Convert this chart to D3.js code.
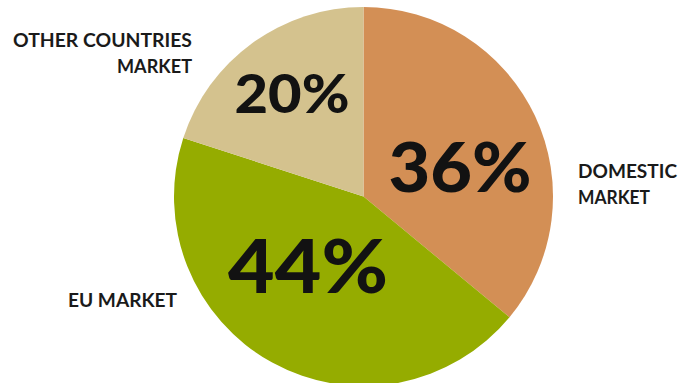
<!DOCTYPE html>
<html>
<head>
<meta charset="utf-8">
<script src="https://cdn.jsdelivr.net/npm/d3@7"></script>
<style>
  html, body { margin: 0; padding: 0; background: #ffffff; }
  svg { display: block; }
</style>
</head>
<body>
<svg id="chart" width="679" height="383"></svg>
<script>
// Market share by destination
const categories = ["DOMESTIC MARKET", "EU MARKET", "OTHER COUNTRIES MARKET"];
const shares = [36, 44, 20];
const colors = ["#D38F55", "#95AC00", "#D4C28E"];

// Layout of the name labels (multi-line) and of the in-slice percentages
const nameLayout = {
  "DOMESTIC MARKET":        { lines: ["DOMESTIC", "MARKET"], x: 578, y: 178, anchor: "start", widths: [99, 72] },
  "EU MARKET":              { lines: ["EU MARKET"], x: 177, y: 307, anchor: "end", widths: [109] },
  "OTHER COUNTRIES MARKET": { lines: ["OTHER COUNTRIES", "MARKET"], x: 192, y: 47, anchor: "end", widths: [179, 75] }
};
const pctLayout = {
  "DOMESTIC MARKET":        { x: 460, y: 192, size: 68, width: 143 },
  "EU MARKET":              { x: 308, y: 293, size: 75, width: 160 },
  "OTHER COUNTRIES MARKET": { x: 292, y: 113, size: 54, width: 115 }
};

const svg = d3.select("#chart");
const cx = 363.5, cy = 196.5, radius = 189.5;

const pie = d3.pie().sort(null).value(d => d.value);
const arc = d3.arc().innerRadius(0).outerRadius(radius);
const color = d3.scaleOrdinal().domain(categories).range(colors);

const data = categories.map((c, i) => ({ name: c, value: shares[i] }));
const arcs = pie(data);

const g = svg.append("g").attr("transform", `translate(${cx},${cy})`);

g.selectAll("path.slice")
  .data(arcs)
  .join("path")
  .attr("class", "slice")
  .attr("d", arc)
  .attr("fill", d => color(d.data.name));

// Percentage labels inside slices
svg.selectAll("text.pct")
  .data(arcs)
  .join("text")
  .attr("class", "pct")
  .attr("x", d => pctLayout[d.data.name].x)
  .attr("y", d => pctLayout[d.data.name].y)
  .attr("text-anchor", "middle")
  .attr("font-family", "Lato, 'DejaVu Sans', sans-serif")
  .attr("font-weight", 900)
  .attr("font-size", d => pctLayout[d.data.name].size)
  .attr("fill", "#121212")
  .attr("textLength", d => pctLayout[d.data.name].width)
  .attr("lengthAdjust", "spacingAndGlyphs")
  .text(d => d.data.value + "%");

// Category name labels outside the pie
const lineHeight = 26;
categories.forEach(name => {
  const L = nameLayout[name];
  L.lines.forEach((line, i) => {
    svg.append("text")
      .attr("x", L.x)
      .attr("y", L.y + i * lineHeight)
      .attr("text-anchor", L.anchor)
      .attr("font-family", "Lato, 'DejaVu Sans', sans-serif")
      .attr("font-weight", 700)
      .attr("font-size", 18)
      .attr("fill", "#1a1a1a")
      .attr("textLength", L.widths[i])
      .attr("lengthAdjust", "spacingAndGlyphs")
      .text(line);
  });
});
</script>
</body>
</html>
